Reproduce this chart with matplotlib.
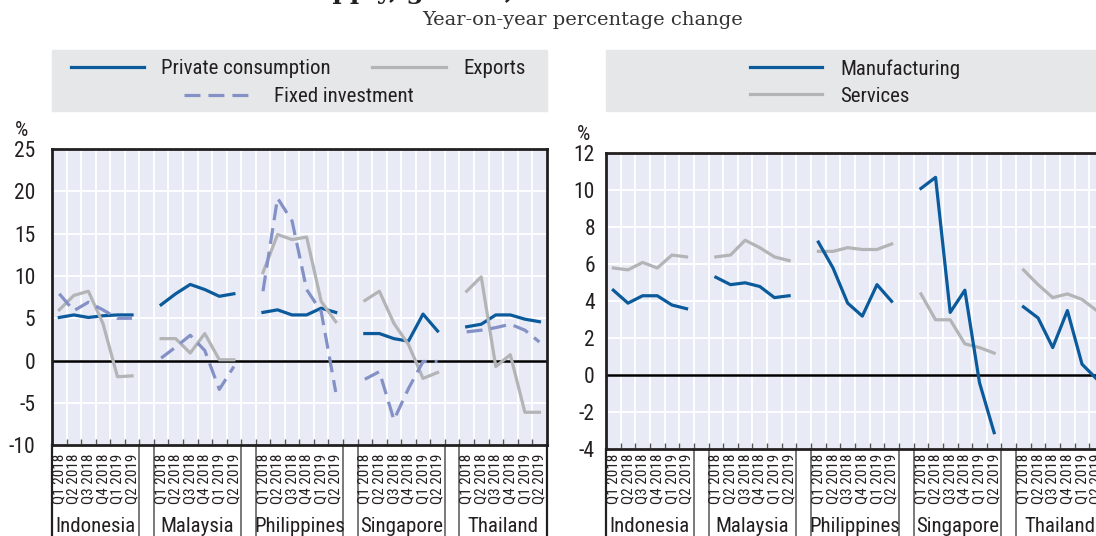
import matplotlib
matplotlib.use('Agg')
import matplotlib.pyplot as plt
import matplotlib.transforms as mtransforms
from matplotlib import font_manager
from matplotlib.patches import Rectangle
from matplotlib.lines import Line2D

# pick a narrow sans if one is installed, otherwise shrink a normal one
avail = {f.name for f in font_manager.fontManager.ttflist}
narrow = [n for n in ['Liberation Sans Narrow', 'Roboto Condensed', 'Arial Narrow']
          if n in avail]
dejavu_cond = any(f.name == 'DejaVu Sans' and f.stretch == 'condensed'
                  for f in font_manager.fontManager.ttflist)
if narrow:
    FAM, SCALE = narrow[0], 1.0
    plt.rcParams['font.family'] = [FAM, 'DejaVu Sans']
elif dejavu_cond:
    FAM, SCALE = 'DejaVu Sans', 0.9
    plt.rcParams['font.family'] = ['DejaVu Sans']
    plt.rcParams['font.stretch'] = 'condensed'
else:
    FAM, SCALE = 'Liberation Sans', 0.88
    plt.rcParams['font.family'] = ['Liberation Sans', 'DejaVu Sans']
plt.rcParams['axes.unicode_minus'] = False

W, H = 1096, 536

countries = ['Indonesia', 'Malaysia', 'Philippines', 'Singapore', 'Thailand']
quarters = ['Q1 2018', 'Q2 2018', 'Q3 2018', 'Q4 2018', 'Q1 2019', 'Q2 2019']

# left panel: demand components, % y-o-y
private_consumption = [
    [5.1, 5.4, 5.1, 5.3, 5.4, 5.4],
    [6.6, 7.9, 9.0, 8.4, 7.6, 7.9],
    [5.7, 6.0, 5.4, 5.4, 6.2, 5.7],
    [3.2, 3.2, 2.6, 2.3, 5.5, 3.5],
    [4.0, 4.3, 5.4, 5.4, 4.9, 4.6],
]
exports = [
    [6.0, 7.7, 8.2, 4.4, -1.9, -1.8],
    [2.6, 2.6, 0.9, 3.2, 0.1, 0.1],
    [10.4, 14.9, 14.3, 14.6, 7.0, 4.6],
    [7.1, 8.2, 4.4, 1.9, -2.1, -1.4],
    [8.2, 9.9, -0.7, 0.7, -6.1, -6.1],
]
fixed_investment = [
    [7.9, 5.9, 6.9, 6.0, 5.0, 5.0],
    [0.3, 1.6, 3.0, 1.2, -3.4, -0.7],
    [8.2, 19.2, 16.5, 8.4, 5.8, -3.7],
    [-2.2, -1.3, -7.0, -3.3, -0.1, -0.1],
    [3.4, 3.6, 3.9, 4.3, 3.6, 2.2],
]

# right panel: supply side, % y-o-y
manufacturing = [
    [4.6, 3.9, 4.3, 4.3, 3.8, 3.6],
    [5.3, 4.9, 5.0, 4.8, 4.2, 4.3],
    [7.2, 5.8, 3.9, 3.2, 4.9, 4.0],
    [10.1, 10.7, 3.4, 4.6, -0.4, -3.1],
    [3.7, 3.1, 1.5, 3.5, 0.6, -0.2],
]
services = [
    [5.8, 5.7, 6.1, 5.8, 6.5, 6.4],
    [6.4, 6.5, 7.3, 6.9, 6.4, 6.2],
    [6.7, 6.7, 6.9, 6.8, 6.8, 7.1],
    [4.4, 3.0, 3.0, 1.7, 1.5, 1.2],
    [5.7, 4.9, 4.2, 4.4, 4.1, 3.5],
]

BLUE = '#0b5a9b'
GREY = '#b3b4b6'
LAV = '#8491c6'
BG = '#e8ebf5'
BOX = '#e6e7e8'
DARK = '#231f20'
LW = 2.3
DASH = (0, (5, 2.5))


def fx(px):
    return px / W


def fy(py):
    return 1 - py / H


fig = plt.figure(figsize=(W / 100, H / 100), dpi=100)

ax1 = fig.add_axes([fx(52), fy(445.3), 494.7 / W, 296.3 / H])
ax2 = fig.add_axes([fx(606), fy(449.3), 498 / W, 296 / H])


def xs(c):
    return [c * 7 + q + 0.5 for q in range(len(quarters))]


def style(ax, ymin, ymax, step, ybot_px, pad):
    ax.set_facecolor(BG)
    ax.set_xlim(0, 34)
    ax.set_ylim(ymin, ymax)
    ax.set_yticks(range(ymin, ymax + 1, step))
    ax.set_xticks(range(1, 34))
    ax.set_xticklabels([])
    ax.tick_params(axis='x', direction='in', length=4, width=1, color='#555555')
    ax.tick_params(axis='y', length=0, pad=pad, labelsize=15.5 * SCALE, labelcolor=DARK)
    ax.grid(True, color='white', lw=1.3)
    ax.set_axisbelow(True)
    for s in ax.spines.values():
        s.set_color(DARK)
        s.set_linewidth(2)
    ax.axhline(0, color='black', lw=1.8, zorder=2)

    tr = mtransforms.blended_transform_factory(ax.transData, fig.transFigure)
    # separators below the plot area
    for b in [6, 7, 13, 14, 20, 21, 27, 28]:
        ax.add_line(Line2D([b, b], [fy(ybot_px), 0], transform=tr,
                           color='#555555', lw=1.1, clip_on=False))
    for b in [0, 34]:
        ax.add_line(Line2D([b, b], [fy(ybot_px), 0], transform=tr,
                           color=DARK, lw=1.6, clip_on=False))
    for c, name in enumerate(countries):
        for q, lab in enumerate(quarters):
            ax.text(c * 7 + q + 0.5, fy(478.5), lab, transform=tr, rotation=90,
                    ha='center', va='center', fontsize=11 * SCALE, color=DARK)
        ax.text(c * 7 + 3, fy(527), name, transform=tr, ha='center',
                va='center', fontsize=15 * SCALE, color=DARK)


style(ax1, -10, 25, 5, 445.3, 12)
style(ax2, -4, 12, 2, 449.3, 8)

for c in range(len(countries)):
    ax1.plot(xs(c), private_consumption[c], color=BLUE, lw=LW, zorder=3)
    ax1.plot(xs(c), exports[c], color=GREY, lw=LW, zorder=3)
    ax1.plot(xs(c), fixed_investment[c], color=LAV, lw=LW, ls=DASH, zorder=3)
    ax2.plot(xs(c), services[c], color=GREY, lw=LW, zorder=3)
    ax2.plot(xs(c), manufacturing[c], color=BLUE, lw=LW, zorder=3)

# % unit labels
fig.text(fx(22), fy(131), '%', ha='center', va='center', fontsize=15 * SCALE, color=DARK)
fig.text(fx(584), fy(134), '%', ha='center', va='center', fontsize=15 * SCALE, color=DARK)

# legend boxes, aligned with the plot areas
fig.add_artist(Rectangle((fx(52), fy(111)), 494.7 / W, 61 / H,
                         transform=fig.transFigure, color=BOX, zorder=0))
fig.add_artist(Rectangle((fx(606), fy(111)), 498 / W, 61 / H,
                         transform=fig.transFigure, color=BOX, zorder=0))


def legend_item(x0, x1, y, color, ls, label, xt):
    fig.add_artist(Line2D([fx(x0), fx(x1)], [fy(y), fy(y)], color=color,
                          lw=LW, ls=ls, transform=fig.transFigure))
    fig.text(fx(xt), fy(y), label, ha='left', va='center_baseline',
             fontsize=15 * SCALE, color=DARK)


legend_item(71, 144, 67, BLUE, '-', 'Private consumption', 161)
legend_item(372, 446, 67, GREY, '-', 'Exports', 463)
legend_item(184, 255, 95, LAV, DASH, 'Fixed investment', 274)
legend_item(750, 822, 67, BLUE, '-', 'Manufacturing', 840)
legend_item(750, 822, 94, GREY, '-', 'Services', 840)

# title (cropped at the top, only descenders remain) and subtitle
fig.text(fx(115), fy(-0.5), 'Demand and supply, growth, 2018-19',
         ha='left', va='baseline', fontsize=18, fontweight='bold',
         family='DejaVu Serif', color=DARK)
fig.text(fx(583), fy(20), 'Year-on-year percentage change', ha='center',
         va='center', fontsize=14, family='DejaVu Serif', color='#333333')

fig.savefig('out.png', dpi=100)
